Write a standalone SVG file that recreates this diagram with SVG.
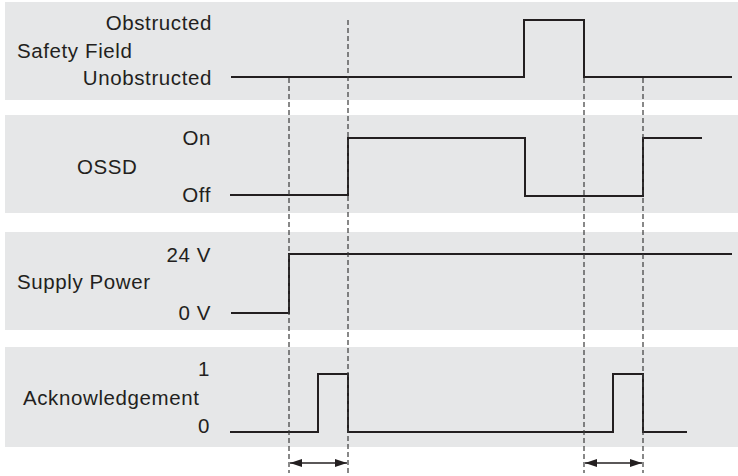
<svg xmlns="http://www.w3.org/2000/svg" width="738" height="476" viewBox="0 0 738 476">
<style>
.panel{fill:#e6e7e8}
.sig{fill:none;stroke:#231f20;stroke-width:2;stroke-linejoin:miter}
.dash{fill:none;stroke:#3a3a3a;stroke-width:1.2;stroke-dasharray:5 3}
.dim{fill:none;stroke:#231f20;stroke-width:1.5}
text{font-family:"Liberation Sans",Arial,sans-serif;font-size:20.5px;letter-spacing:0.6px;fill:#231f20}
.r{text-anchor:end}
</style>
<defs>
<marker id="ah" viewBox="0 0 12 8" refX="12" refY="4" markerWidth="12" markerHeight="8" markerUnits="userSpaceOnUse" orient="auto-start-reverse">
<path d="M0,0 L12,4 L0,8 z" fill="#231f20"/>
</marker>
</defs>
<rect width="738" height="476" fill="#ffffff"/>
<g id="safety-field">
<rect class="panel" x="5" y="2" width="733" height="98"/>
<text class="r" x="212" y="30">Obstructed</text>
<text x="17" y="58">Safety Field</text>
<text class="r" x="212" y="85">Unobstructed</text>
<path class="sig" d="M231,77 H524 V20 H584 V77 H732"/>
</g>
<g id="ossd">
<rect class="panel" x="5" y="115" width="733" height="98"/>
<text class="r" x="211" y="145">On</text>
<text x="77" y="174">OSSD</text>
<text class="r" x="211" y="202">Off</text>
<path class="sig" d="M230,195 H348 V138 H525 V196 H643 V138 H702"/>
</g>
<g id="supply-power">
<rect class="panel" x="5" y="232" width="733" height="98"/>
<text class="r" x="211" y="262">24 V</text>
<text x="17" y="289">Supply Power</text>
<text class="r" x="211" y="320">0 V</text>
<path class="sig" d="M231,313 H289 V254 H732"/>
</g>
<g id="acknowledgement">
<rect class="panel" x="5" y="347" width="733" height="100"/>
<text class="r" x="210" y="376">1</text>
<text x="23" y="405">Acknowledgement</text>
<text class="r" x="210" y="433">0</text>
<path class="sig" d="M230,432 H318 V374 H348 V432 H613 V374 H643 V432 H687"/>
</g>
<g id="connectors">
<line class="dash" x1="289" y1="78" x2="289" y2="473"/>
<line class="dash" x1="348" y1="20" x2="348" y2="473"/>
<line class="dash" x1="584" y1="78" x2="584" y2="473"/>
<line class="dash" x1="643" y1="78" x2="643" y2="473"/>
<line class="dim" x1="290" y1="463" x2="347" y2="463" marker-start="url(#ah)" marker-end="url(#ah)"/>
<line class="dim" x1="585" y1="463" x2="642" y2="463" marker-start="url(#ah)" marker-end="url(#ah)"/>
</g>
</svg>
